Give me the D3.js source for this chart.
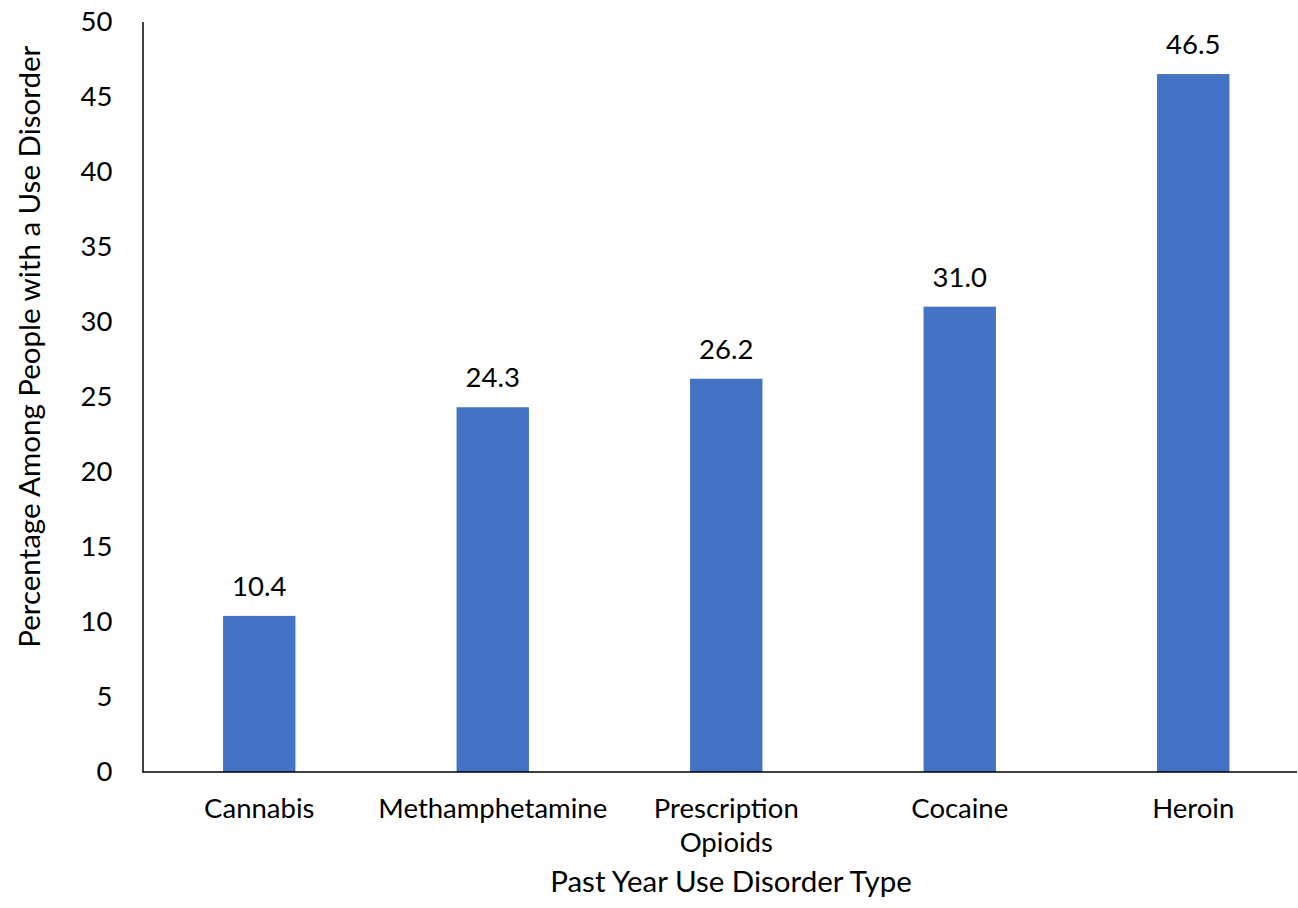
<!DOCTYPE html>
<html>
<head>
<meta charset="utf-8">
<script src="https://cdn.jsdelivr.net/npm/d3@7"></script>
<style>
  html, body { margin: 0; padding: 0; background: #fff; }
  svg { display: block; font-family: Lato, "Open Sans", sans-serif; }
</style>
</head>
<body>
<svg id="chart" width="1298" height="908"></svg>
<script>
const categories = [["Cannabis"], ["Methamphetamine"], ["Prescription", "Opioids"], ["Cocaine"], ["Heroin"]];
const values = [10.4, 24.3, 26.2, 31.0, 46.5];
const yTicks = [0, 5, 10, 15, 20, 25, 30, 35, 40, 45, 50];
const yTitle = "Percentage Among People with a Use Disorder";
const xTitle = "Past Year Use Disorder Type";

(function () {
const mLeft = 142.5, mRight = 1310, mTop = 21.5, mBottom = 772;
const svg = d3.select("#chart");

const keys = categories.map(c => c.join(" "));
const x = d3.scaleBand().domain(keys).range([mLeft, mRight]).paddingInner(0.69).paddingOuter(0.345);
const y = d3.scaleLinear().domain([0, 50]).range([mBottom, mTop]);

const fs = 27.5;
const fsTitle = 29.5;

// bars
svg.append("g").selectAll("rect").data(values).join("rect")
  .attr("x", (d, i) => x(keys[i]))
  .attr("width", x.bandwidth())
  .attr("y", d => y(d))
  .attr("height", d => y(0) - y(d))
  .attr("fill", "#4472C4");

// data labels
svg.append("g").selectAll("text").data(values).join("text")
  .attr("x", (d, i) => x(keys[i]) + x.bandwidth() / 2)
  .attr("y", d => y(d) - 20)
  .attr("text-anchor", "middle")
  .attr("font-size", fs)
  .attr("fill", "#000")
  .text(d => d.toFixed(1));

// y axis
const yAxis = d3.axisLeft(y).tickValues(yTicks).tickSize(0).tickPadding(30).tickFormat(d3.format("d"));
const gy = svg.append("g").attr("transform", `translate(${mLeft},0)`).call(yAxis);
gy.select(".domain").attr("stroke", "#000").attr("stroke-width", 1.5);
gy.selectAll("text").attr("font-size", fs).attr("font-family", "Lato, sans-serif").attr("fill", "#000");

// x axis
const xAxis = d3.axisBottom(x).tickSize(0).tickFormat("");
const gx = svg.append("g").attr("transform", `translate(0,${mBottom})`).call(xAxis);
gx.select(".domain").remove();
gx.append("line").attr("x1", mLeft).attr("x2", 1297).attr("y1", 0).attr("y2", 0)
  .attr("stroke", "#000").attr("stroke-width", 1.5);
gx.selectAll(".tick").each(function(d, i) {
  const t = d3.select(this).append("text")
    .attr("text-anchor", "middle")
    .attr("font-size", fs)
    .attr("font-family", "Lato, sans-serif")
    .attr("fill", "#000");
  categories[i].forEach((line, j) => {
    t.append("tspan").attr("x", 0).attr("y", 46 + j * 34).text(line);
  });
});

// titles
svg.append("text")
  .attr("transform", `translate(40,${(mTop + mBottom) / 2 - 50}) rotate(-90)`)
  .attr("text-anchor", "middle")
  .attr("font-size", fsTitle)
  .attr("fill", "#000")
  .text(yTitle);

svg.append("text")
  .attr("x", 731)
  .attr("y", 892)
  .attr("text-anchor", "middle")
  .attr("font-size", fsTitle)
  .attr("fill", "#000")
  .text(xTitle);
})();
</script>
</body>
</html>
